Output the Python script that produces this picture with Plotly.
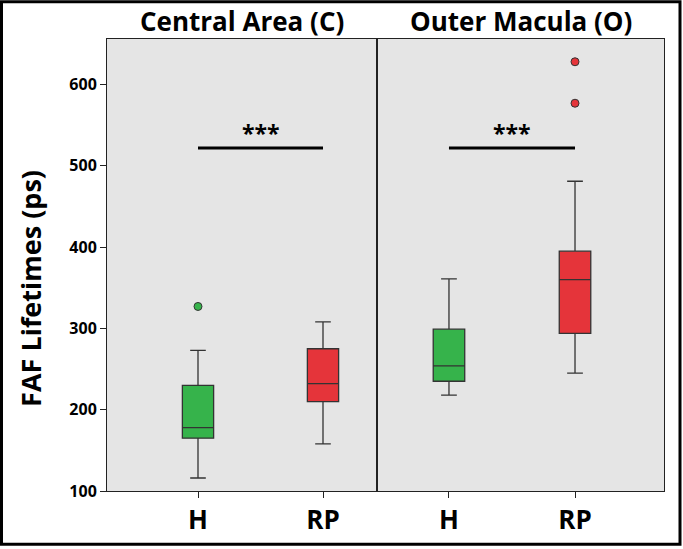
import plotly.graph_objects as go

groups = ["H", "RP"]
panel_titles = ["Central Area (C)", "Outer Macula (O)"]

central_lower = [116, 158]
central_q1 = [165, 210]
central_median = [178, 232]
central_q3 = [230, 275]
central_upper = [273, 308]
central_outliers = [[327], []]

outer_lower = [218, 245]
outer_q1 = [235, 294]
outer_median = [254, 360]
outer_q3 = [299, 395]
outer_upper = [361, 481]
outer_outliers = [[], [577, 628]]

sig_level = [522, 522]
sig_text = ["***", "***"]

y_ticks = [100, 200, 300, 400, 500, 600]

colors = ["#36b34b", "#e5343a"]
edge = "#333333"

W, H = 683, 549
L, R, T, B = 107, 664, 39, 493
pw, ph = R - L, B - T
split = (377 - L) / pw

fig = go.Figure()

panels = [
    (central_lower, central_q1, central_median, central_q3, central_upper, central_outliers),
    (outer_lower, outer_q1, outer_median, outer_q3, outer_upper, outer_outliers),
]

for p, (lo, q1, med, q3, up, outl) in enumerate(panels):
    xa = "x" if p == 0 else "x2"
    ya = "y" if p == 0 else "y2"
    for i, g in enumerate(groups):
        fig.add_trace(go.Box(
            x=[i], q1=[q1[i]], median=[med[i]], q3=[q3[i]],
            lowerfence=[lo[i]], upperfence=[up[i]],
            width=0.25, whiskerwidth=0.5,
            fillcolor=colors[i], line=dict(color=edge, width=1.3),
            xaxis=xa, yaxis=ya, showlegend=False, hoverinfo="skip",
            boxpoints=False,
        ))
        if outl[i]:
            fig.add_trace(go.Scatter(
                x=[i] * len(outl[i]), y=outl[i], mode="markers",
                marker=dict(size=8, color=colors[i], line=dict(color=edge, width=1)),
                xaxis=xa, yaxis=ya, showlegend=False, hoverinfo="skip",
            ))
    fig.add_shape(type="line", x0=0, x1=1, y0=sig_level[p], y1=sig_level[p],
                  xref=xa, yref=ya, line=dict(color="black", width=3))
    fig.add_annotation(x=0.5, y=sig_level[p], xref=xa, yref=ya, text="<b>%s</b>" % sig_text[p],
                       showarrow=False, xanchor="center", yanchor="bottom", yshift=-3,
                       font=dict(size=23, color="black", family="Open Sans"))

axis_common = dict(
    showgrid=False, zeroline=False, showline=True, mirror=True,
    linecolor="#222222", linewidth=1,
)

fig.update_layout(
    width=W, height=H,
    margin=dict(l=L, r=W - R, t=T, b=H - B),
    paper_bgcolor="white", plot_bgcolor="#e5e5e5",
    font=dict(family="Open Sans", color="black"),
    xaxis=dict(domain=[0, split], range=[-0.728, 1.432], tickvals=[0, 1],
               ticktext=["<b>%s</b>" % g for g in groups],
               ticks="outside", ticklen=6, tickcolor="#222222",
               tickfont=dict(size=26, family="Open Sans"), **axis_common),
    xaxis2=dict(domain=[split, 1], range=[-0.571, 1.706], tickvals=[0, 1],
                ticktext=["<b>%s</b>" % g for g in groups],
                ticks="outside", ticklen=6, tickcolor="#222222",
                tickfont=dict(size=26, family="Open Sans"), **axis_common),
    yaxis=dict(range=[100, 656], tickvals=y_ticks,
               ticktext=["<b>%d</b>" % v for v in y_ticks],
               ticks="outside", ticklen=6, tickcolor="#222222",
               tickfont=dict(size=16, family="Open Sans"), **axis_common),
    yaxis2=dict(range=[100, 656], anchor="x2", showticklabels=False, ticks="",
                **axis_common),
)

for p, t in enumerate(panel_titles):
    cx = (split / 2) if p == 0 else (split + (1 - split) / 2)
    fig.add_annotation(x=cx, y=1 + (T - 21) / ph, xref="paper", yref="paper",
                       text="<b>%s</b>" % t, showarrow=False,
                       xanchor="center", yanchor="middle",
                       font=dict(size=26, family="Open Sans", color="black"))

fig.add_annotation(x=(31 - L) / pw, y=(B - 290) / ph, xref="paper", yref="paper",
                   text="<b>FAF Lifetimes (ps)</b>", textangle=-90, showarrow=False,
                   xanchor="center", yanchor="middle",
                   font=dict(size=27, family="Open Sans", color="black"))

fig.add_shape(type="rect", xref="paper", yref="paper",
              x0=(1.5 - L) / pw, x1=(680 - L) / pw,
              y0=(B - 546.5) / ph, y1=(B - 1.5) / ph,
              line=dict(color="black", width=3))

fig.write_html("out.html", config={"displayModeBar": False},
               post_script="document.body.style.margin='0';document.body.style.overflow='hidden';")
